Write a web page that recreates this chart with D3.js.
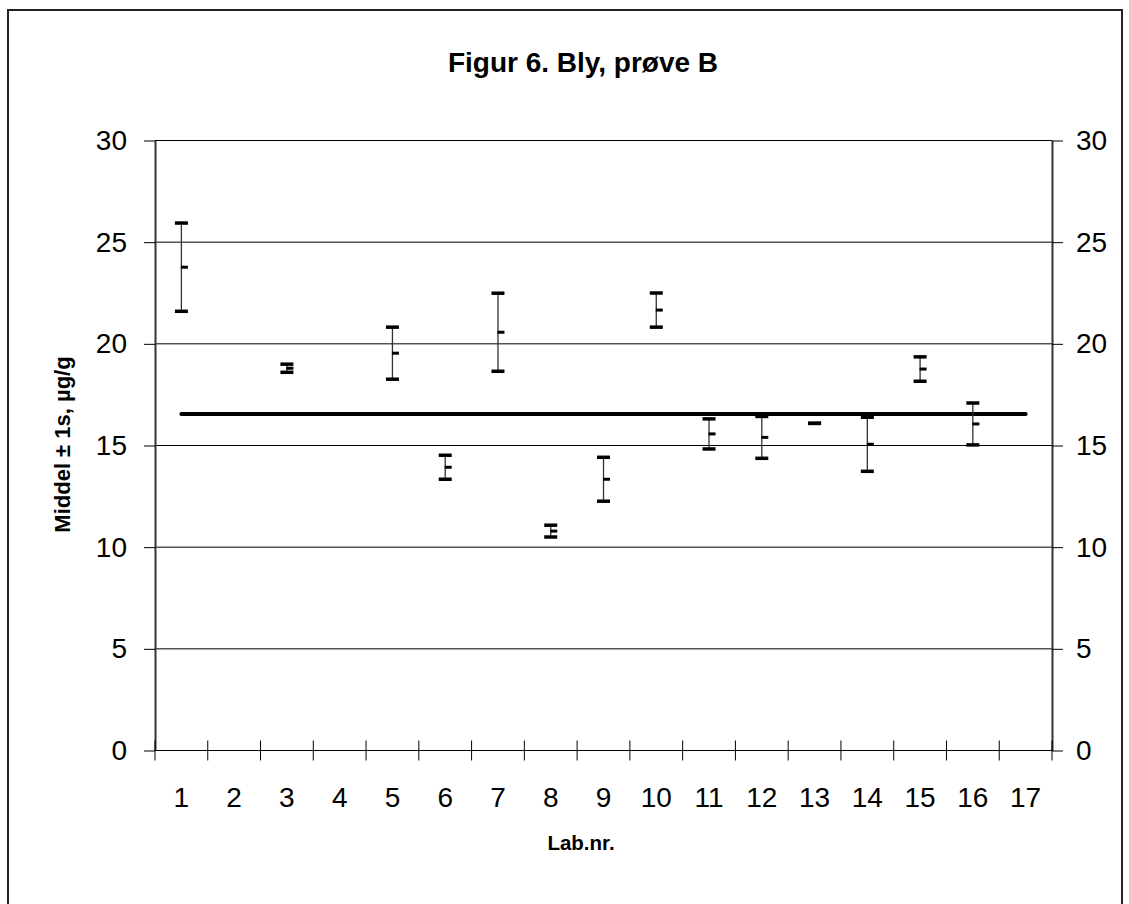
<!DOCTYPE html>
<html>
<head>
<meta charset="utf-8">
<script src="https://cdn.jsdelivr.net/npm/d3@7"></script>
<style>
  html, body { margin: 0; padding: 0; background: #fff; }
  svg { display: block; font-family: Arial, "Liberation Sans", sans-serif; }
</style>
</head>
<body>
<svg id="chart" width="1129" height="904"></svg>
<script>
// ---- data ----
const categories = ["1","2","3","4","5","6","7","8","9","10","11","12","13","14","15","16","17"];
const labs  = ["1","3","5","6","7","8","9","10","11","12","13","14","15","16"];
const means = [23.77, 18.8, 19.54, 13.93, 20.57, 10.79, 13.34, 21.66, 15.57, 15.4, 16.09, 15.06, 18.76, 16.06];
const sds   = [2.17, 0.2, 1.28, 0.59, 1.92, 0.29, 1.08, 0.84, 0.74, 1.03, 0.0, 1.33, 0.6, 1.03];
const yTicks = [0, 5, 10, 15, 20, 25, 30];
const refValue = 16.55;
const refFrom = "1", refTo = "17";
const titleText = "Figur 6. Bly, prøve B";
const yTitle = "Middel ± 1s, µg/g";
const xTitle = "Lab.nr.";

// ---- layout ----
const svg = d3.select("#chart");
const L = 155, R = 1052, T = 140.5, B = 750.5;
const tickFont = 28;

const x = d3.scaleBand().domain(categories).range([L, R]).padding(0);
const y = d3.scaleLinear().domain([0, 30]).range([B, T]);
const cx = c => x(c) + x.bandwidth() / 2;

// outer frame
svg.append("rect").attr("x", 8).attr("y", 10).attr("width", 1114).attr("height", 960)
  .attr("fill", "none").attr("stroke", "#222").attr("stroke-width", 2);

// title
svg.append("text").attr("x", 583).attr("y", 72).attr("text-anchor", "middle")
  .attr("font-size", 28).attr("font-weight", "bold").text(titleText);

// gridlines
svg.append("g").selectAll("line").data(yTicks.filter(v => v > 0)).join("line")
  .attr("x1", L).attr("x2", R).attr("y1", d => y(d)).attr("y2", d => y(d))
  .attr("stroke", "#000").attr("stroke-width", 1);

// left axis
const gl = svg.append("g").attr("transform", `translate(${L},0)`)
  .call(d3.axisLeft(y).tickValues(yTicks).tickSize(11).tickPadding(17).tickSizeOuter(0));
gl.select(".domain").attr("stroke", "#333").attr("stroke-width", 2);
gl.selectAll(".tick line").attr("stroke", "#000");
gl.selectAll("text").attr("font-size", tickFont).attr("fill", "#000")
  .attr("font-family", "Arial, 'Liberation Sans', sans-serif");

// right axis
const gr = svg.append("g").attr("transform", `translate(${R},0)`)
  .call(d3.axisRight(y).tickValues(yTicks).tickSize(11).tickPadding(13).tickSizeOuter(0));
gr.select(".domain").attr("stroke", "#333").attr("stroke-width", 2);
gr.selectAll(".tick line").attr("stroke", "#000");
gr.selectAll("text").attr("font-size", tickFont).attr("fill", "#000")
  .attr("font-family", "Arial, 'Liberation Sans', sans-serif");

// bottom axis line + ticks at band edges
svg.append("line").attr("x1", L).attr("x2", R).attr("y1", y(0)).attr("y2", y(0))
  .attr("stroke", "#000").attr("stroke-width", 1);
const edges = categories.map(c => x(c)).concat([x(categories[categories.length - 1]) + x.bandwidth()]);
svg.append("g").selectAll("line").data(edges).join("line")
  .attr("x1", d => d).attr("x2", d => d).attr("y1", y(0) - 10).attr("y2", y(0) + 10)
  .attr("stroke", "#000").attr("stroke-width", 1);
svg.append("g").selectAll("text").data(categories).join("text")
  .attr("x", d => cx(d)).attr("y", 807).attr("text-anchor", "middle")
  .attr("font-size", tickFont).text(d => d);

// axis titles
svg.append("text").attr("transform", `translate(70,${(T + B) / 2 - 1}) rotate(-90)`)
  .attr("text-anchor", "middle").attr("font-size", 22).attr("font-weight", "bold").text(yTitle);
svg.append("text").attr("x", 581).attr("y", 850).attr("text-anchor", "middle")
  .attr("font-size", 20.5).attr("font-weight", "bold").text(xTitle);

// reference line
svg.append("line").attr("x1", cx(refFrom)).attr("x2", cx(refTo))
  .attr("y1", y(refValue)).attr("y2", y(refValue))
  .attr("stroke", "#000").attr("stroke-width", 4).attr("stroke-linecap", "round");

// error bars
const data = labs.map((l, i) => ({ lab: l, m: means[i], s: sds[i] }));
const eb = svg.append("g").selectAll("g").data(data).join("g");
eb.append("line").attr("x1", d => cx(d.lab)).attr("x2", d => cx(d.lab))
  .attr("y1", d => y(d.m + d.s)).attr("y2", d => y(d.m - d.s))
  .attr("stroke", "#333").attr("stroke-width", 1.3);
[1, -1].forEach(sign => {
  eb.append("line").attr("x1", d => cx(d.lab) - 6.5).attr("x2", d => cx(d.lab) + 6.5)
    .attr("y1", d => y(d.m + sign * d.s)).attr("y2", d => y(d.m + sign * d.s))
    .attr("stroke", "#000").attr("stroke-width", 3.5);
});
eb.append("line").attr("x1", d => cx(d.lab) - 0.5).attr("x2", d => cx(d.lab) + 6.5)
  .attr("y1", d => y(d.m)).attr("y2", d => y(d.m))
  .attr("stroke", "#000").attr("stroke-width", 3);
</script>
</body>
</html>
